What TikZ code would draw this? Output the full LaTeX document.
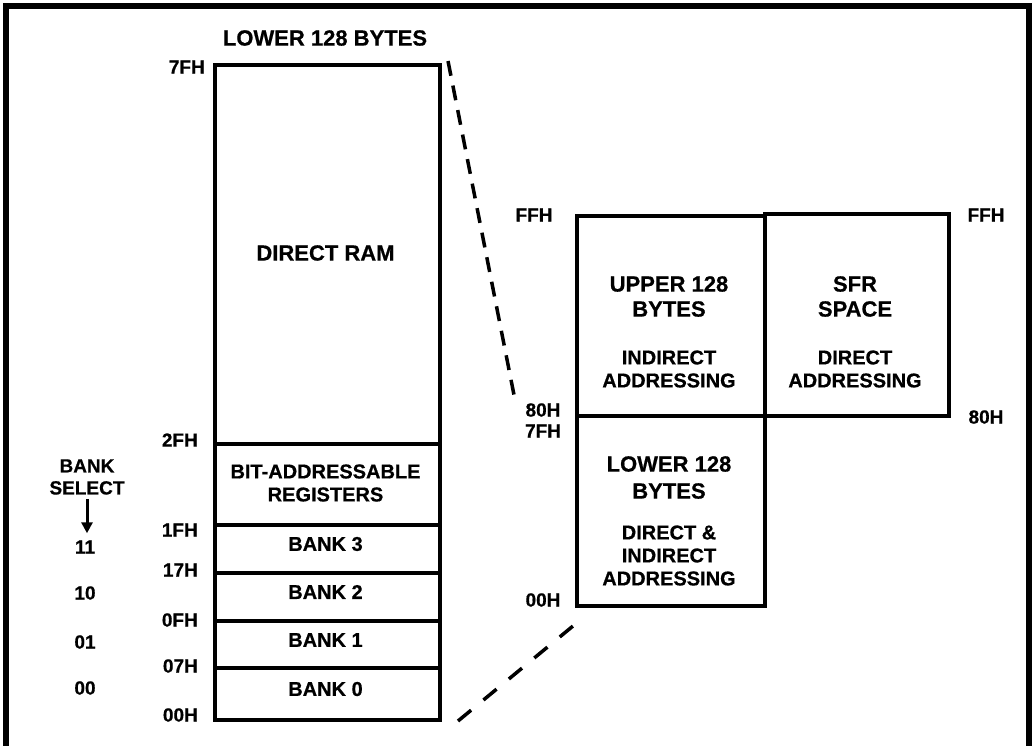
\documentclass[tikz,border=0pt]{standalone}
\usepackage{fontspec}
\setmainfont{Liberation Sans}[BoldFeatures={FakeBold=0.6}]
\usetikzlibrary{arrows.meta}
\begin{document}
\begin{tikzpicture}[x=1pt,y=-1pt,
  box/.style={draw,line width=3.5pt,inner sep=0pt},
  divider/.style={line width=3.5pt},
  lbl/.style={font=\fontsize{19}{22}\selectfont\bfseries, inner sep=0pt},
  txt/.style={font=\fontsize{20}{23}\selectfont\bfseries, align=center, inner sep=0pt},
  head/.style={font=\fontsize{22}{25}\selectfont\bfseries, align=center, inner sep=0pt},
  zoomtop/.style={line width=3.5pt, dash pattern=on 15pt off 10pt},
  zoombot/.style={line width=3.5pt, dash pattern=on 17pt off 16pt},
]
\useasboundingbox (0,0) rectangle (1034,745);
\begin{scope}
\clip (0,0) rectangle (1034,745);
\draw[line width=6pt] (5.5,760) -- (5.5,5.5) -- (1028.5,5.5) -- (1028.5,760);
\end{scope}

% left memory column
\node[box, minimum width=225pt, minimum height=655pt, anchor=north west] (col) at (213,63) {};
\foreach \yy in {444,525,573,621,668}
  \draw[divider] (213,\yy) -- (442,\yy);

\node[head] (title) at (325,38) {LOWER 128 BYTES};
\node[head] (dram) at (325.5,253) {DIRECT RAM};
\node[txt] (bitreg) at (325.5,483) {BIT-ADDRESSABLE\\REGISTERS};
\node[txt] (bk3) at (325.5,544) {BANK 3};
\node[txt] (bk2) at (325.5,592) {BANK 2};
\node[txt] (bk1) at (325.5,640) {BANK 1};
\node[txt] (bk0) at (325.5,689) {BANK 0};

\node[lbl, anchor=east] (a7f) at (205,67) {7FH};
\node[lbl, anchor=east] (a2f) at (198,440) {2FH};
\node[lbl, anchor=east] (a1f) at (198,530) {1FH};
\node[lbl, anchor=east] (a17) at (198,570) {17H};
\node[lbl, anchor=east] (a0f) at (198,620) {0FH};
\node[lbl, anchor=east] (a07) at (198,666) {07H};
\node[lbl, anchor=east] (a00) at (198,715) {00H};

% bank select
\node[lbl, align=center] (bsel) at (87,477) {BANK\\SELECT};
\node[lbl] (b11) at (85,547) {11};
\node[lbl] (b10) at (85,593) {10};
\node[lbl] (b01) at (85,642) {01};
\node[lbl] (b00) at (85,688) {00};
\draw[line width=3pt, -{Triangle[width=11pt,length=11pt]}, shorten <=4pt, shorten >=7pt]
  (bsel.south) -- (bsel.south |- b11.north);

% right memory map
\node[box, minimum width=188pt, minimum height=200pt, anchor=north west] (upper) at (575,214) {};
\node[box, minimum width=184pt, minimum height=202pt, anchor=north west] (sfr) at (763,212) {};
\node[box, minimum width=188pt, minimum height=190pt, anchor=north west] (lowr) at (575,414) {};

\node[head] (uph) at (669,296.5) {UPPER 128\\BYTES};
\node[txt] (upt) at (669,369) {INDIRECT\\ADDRESSING};
\node[head] (sfrh) at (855,296.5) {SFR\\SPACE};
\node[txt] (sfrt) at (855,369) {DIRECT\\ADDRESSING};
\node[head, font=\fontsize{22}{27}\selectfont\bfseries] (lwh) at (669,477.5) {LOWER 128\\BYTES};
\node[txt] (lwt) at (669,555.5) {DIRECT \&\\INDIRECT\\ADDRESSING};

\node[lbl] (rffl) at (534,215) {FFH};
\node[lbl] (r80l) at (543,410) {80H};
\node[lbl] (r7fl) at (543,431) {7FH};
\node[lbl] (r00l) at (543,600) {00H};
\node[lbl] (rffr) at (986,215) {FFH};
\node[lbl] (r80r) at (986,417) {80H};

% zoom lines
\coordinate (zt1) at (448,61);
\coordinate (zt2) at (515,400);
\coordinate (zb1) at (458,721);
\coordinate (zb2) at (573,626);
\draw[zoomtop] (zt1) -- (zt2);
\draw[zoombot] (zb1) -- (zb2);
\end{tikzpicture}
\end{document}
